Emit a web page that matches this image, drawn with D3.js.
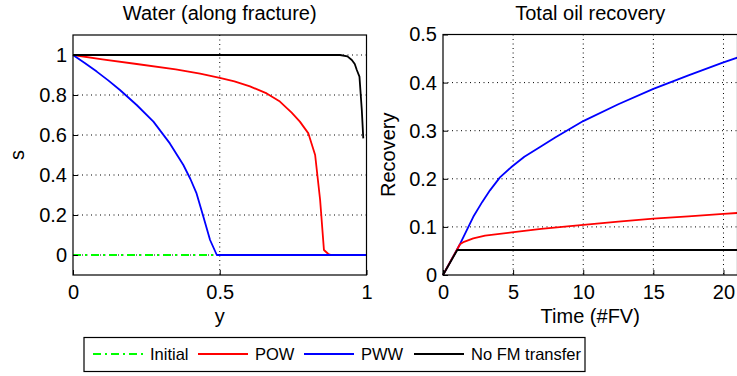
<!doctype html>
<meta charset="utf-8">
<style>
body { margin: 0; background: #fff; font-family: "Liberation Sans", Arial, sans-serif; }
.tick text { font-size: 20px; font-family: "Liberation Sans", Arial, sans-serif; fill: #000; }
.tick line { stroke: #000; }
.grid line { stroke: #000; stroke-width: 1; stroke-dasharray: 1,3.5; }
.curve { fill: none; stroke-width: 1.8; stroke-linejoin: round; }
</style>
<body>
<script src="https://cdn.jsdelivr.net/npm/d3@7"></script>
<script>
// left plot: water saturation along fracture
var initialY = [0, 1];
var initialS = [0, 0];
var powY = [0, 0.1, 0.217, 0.35, 0.433, 0.5, 0.55, 0.603, 0.66, 0.705, 0.745, 0.773, 0.802, 0.825, 0.842, 0.855, 0.87, 0.88, 1];
var powS = [1, 0.978, 0.955, 0.928, 0.907, 0.886, 0.868, 0.843, 0.808, 0.767, 0.712, 0.667, 0.608, 0.5, 0.275, 0.025, 0.005, 0, 0];
var pwwY = [0, 0.04, 0.081, 0.12, 0.16, 0.217, 0.274, 0.33, 0.376, 0.4, 0.421, 0.444, 0.467, 0.49, 1];
var pwwS = [1, 0.96, 0.917, 0.873, 0.825, 0.75, 0.667, 0.558, 0.45, 0.38, 0.308, 0.192, 0.075, 0, 0];
var nofmY = [0, 0.91, 0.935, 0.95, 0.96, 0.967, 0.976, 0.984, 0.989];
var nofmS = [1, 1, 0.993, 0.975, 0.955, 0.925, 0.892, 0.725, 0.583];
var leftXTicks = [0, 0.5, 1];
var leftYTicks = [0, 0.2, 0.4, 0.6, 0.8, 1];

// right plot: total oil recovery
var nofmT = [0, 1.02, 21];
var nofmR = [0, 0.052, 0.052];
var powT = [0, 1.21, 1.5, 2.16, 3, 4.9, 7, 9.06, 12.5, 15, 17.5, 20, 21];
var powR = [0, 0.064, 0.069, 0.076, 0.082, 0.0885, 0.096, 0.1017, 0.111, 0.117, 0.122, 0.127, 0.129];
var pwwT = [0, 1.21, 2.16, 2.8, 3.35, 4.06, 4.9, 5.8, 6.92, 8, 9.06, 10, 12.5, 15, 17.5, 19.9, 21];
var pwwR = [0, 0.064, 0.121, 0.152, 0.176, 0.203, 0.225, 0.246, 0.266, 0.286, 0.304, 0.32, 0.355, 0.387, 0.415, 0.441, 0.452];
var rightXTicks = [0, 5, 10, 15, 20];
var rightYTicks = [0, 0.1, 0.2, 0.3, 0.4, 0.5];

var legendNames = ["Initial", "POW", "PWW", "No FM transfer"];
var colors = {Initial: "#00ff00", POW: "#ff0000", PWW: "#0000ff", "No FM transfer": "#000000"};

var svg = d3.select("body").append("svg")
  .attr("width", 737).attr("height", 376);

function zip(a, b) { return a.map(function(v, i) { return [v, b[i]]; }); }

function panel(box, xdom, ydom, xticks, yticks, title, xlabel, ylabel, ylabelX, series) {
  var x = d3.scaleLinear().domain(xdom).range([box.left, box.right]);
  var y = d3.scaleLinear().domain(ydom).range([box.bottom, box.top]);
  var g = svg.append("g");

  // dotted grid
  g.append("g").attr("class", "grid").selectAll("line").data(xticks.filter(function(t){ return t > xdom[0] && t < xdom[1]; }))
    .enter().append("line")
    .attr("x1", function(d){ return x(d); }).attr("x2", function(d){ return x(d); })
    .attr("y1", box.top).attr("y2", box.bottom);
  g.append("g").attr("class", "grid").selectAll("line").data(yticks.filter(function(t){ return t > ydom[0] && t < ydom[1]; }))
    .enter().append("line")
    .attr("y1", function(d){ return y(d); }).attr("y2", function(d){ return y(d); })
    .attr("x1", box.left).attr("x2", box.right);

  var line = d3.line().x(function(d){ return x(d[0]); }).y(function(d){ return y(d[1]); });
  series.forEach(function(s) {
    g.append("path").attr("class", "curve")
      .attr("d", line(s.data))
      .style("stroke", colors[s.name])
      .style("stroke-dasharray", s.dash || null);
  });

  // axes, ticks inside
  var xa = g.append("g").attr("transform", "translate(0," + box.bottom + ")")
    .call(d3.axisBottom(x).tickValues(xticks).tickSizeInner(-5).tickSizeOuter(0).tickPadding(10).tickFormat(d3.format("")));
  var ya = g.append("g").attr("transform", "translate(" + box.left + ",0)")
    .call(d3.axisLeft(y).tickValues(yticks).tickSizeInner(-5).tickSizeOuter(0).tickPadding(6).tickFormat(d3.format("")));
  xa.select(".domain").remove();
  ya.select(".domain").remove();
  xa.selectAll(".tick text").attr("dy", "0.7em");

  // box
  g.append("rect").attr("x", box.left).attr("y", box.top)
    .attr("width", box.right - box.left).attr("height", box.bottom - box.top)
    .attr("fill", "none").attr("stroke", "#000").attr("stroke-width", 1.2);

  svg.append("text").attr("x", (box.left + box.right) / 2).attr("y", 20)
    .attr("text-anchor", "middle").style("font-size", "20px").text(title);
  svg.append("text").attr("x", (box.left + box.right) / 2).attr("y", 323)
    .attr("text-anchor", "middle").style("font-size", "20px").text(xlabel);
  svg.append("text").attr("transform", "translate(" + ylabelX + "," + ((box.top + box.bottom) / 2) + ") rotate(-90)")
    .attr("text-anchor", "middle").style("font-size", "20px").text(ylabel);
}

panel({left: 73, right: 366.5, top: 35, bottom: 275}, [0, 1], [-0.1, 1.1], leftXTicks, leftYTicks,
  "Water (along fracture)", "y", "s", 24, [
    {name: "Initial", data: zip(initialY, initialS), dash: "8,4,2,4"},
    {name: "POW", data: zip(powY, powS)},
    {name: "PWW", data: zip(pwwY, pwwS)},
    {name: "No FM transfer", data: zip(nofmY, nofmS)}
  ]);

panel({left: 443, right: 737.5, top: 34.5, bottom: 275}, [0, 21], [0, 0.5], rightXTicks, rightYTicks,
  "Total oil recovery", "Time (#FV)", "Recovery", 395, [
    {name: "PWW", data: zip(pwwT, pwwR)},
    {name: "POW", data: zip(powT, powR)},
    {name: "No FM transfer", data: zip(nofmT, nofmR)}
  ]);

// legend
var lg = svg.append("g");
lg.append("rect").attr("x", 84).attr("y", 337.5).attr("width", 501).attr("height", 34)
  .attr("fill", "#fff").attr("stroke", "#000").attr("stroke-width", 1.2);
var legX = [93, 198, 304, 414];
legendNames.forEach(function(n, i) {
  lg.append("line").attr("x1", legX[i]).attr("x2", legX[i] + 50).attr("y1", 354).attr("y2", 354)
    .attr("stroke", colors[n]).attr("stroke-width", 1.8)
    .style("stroke-dasharray", n === "Initial" ? "8,4,2,4" : null);
  lg.append("text").attr("x", legX[i] + 57).attr("y", 360).style("font-size", "16.5px").text(n);
});
</script>
</body>
